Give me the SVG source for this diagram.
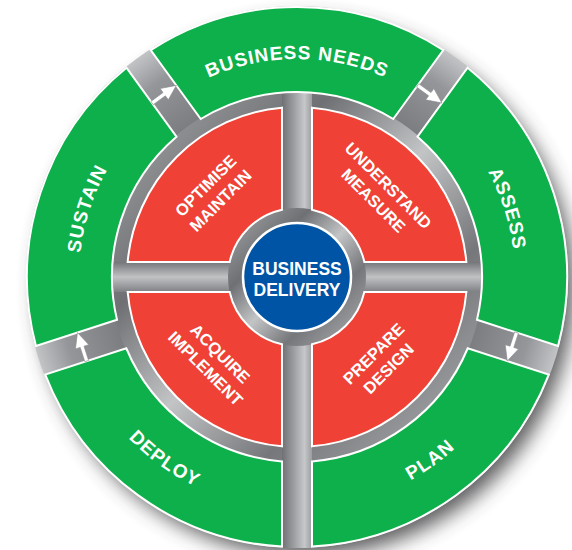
<svg xmlns="http://www.w3.org/2000/svg" width="572" height="550" viewBox="0 0 572 550">
<style>
.seg{fill:#0db04b;stroke:#ffffff;stroke-width:2;stroke-linejoin:miter}
.quad{fill:#ef4136;stroke:#ffffff;stroke-width:2}
.lbl{font-family:"Liberation Sans",Arial,sans-serif;font-weight:bold;fill:#ffffff}
.big{font-size:19px;letter-spacing:1px}
.mid{font-size:16.5px;text-anchor:middle}
.arr{fill:#ffffff;stroke:#8a8b8e;stroke-width:0.6}
</style>
<defs>
<filter id="shadow" x="-20%" y="-20%" width="140%" height="140%"><feGaussianBlur stdDeviation="10"/></filter>
<radialGradient id="outerfade" cx="297" cy="277" r="272" gradientUnits="userSpaceOnUse">
<stop offset="0.68" stop-color="#7c7d80"/>
<stop offset="0.88" stop-color="#95969a"/>
<stop offset="1" stop-color="#c4c5c7"/>
</radialGradient>
<linearGradient id="metal" x1="0" y1="0" x2="1" y2="1">
<stop offset="0" stop-color="#a9aaac"/>
<stop offset="0.3" stop-color="#6f7073"/>
<stop offset="0.5" stop-color="#c3c4c6"/>
<stop offset="0.7" stop-color="#76777a"/>
<stop offset="1" stop-color="#b3b4b6"/>
</linearGradient>
<linearGradient id="vbar" x1="0" y1="0" x2="1" y2="0">
<stop offset="0" stop-color="#6f7073"/>
<stop offset="0.75" stop-color="#c6c7c9"/>
<stop offset="1" stop-color="#9c9da0"/>
</linearGradient>
<linearGradient id="hbar" x1="0" y1="0" x2="0" y2="1">
<stop offset="0" stop-color="#747578"/>
<stop offset="0.5" stop-color="#c1c2c4"/>
<stop offset="1" stop-color="#7f8083"/>
</linearGradient>
<path id="pBN" d="M188,88.2 A218,218 0 0 1 406,88.2"/>
<path id="pAS" d="M442.9,115 A218,218 0 0 1 510.2,322.3"/>
<path id="pSU" d="M83.8,322.3 A218,218 0 0 1 151.1,115"/>
<path id="pDE" d="M84.1,371.8 A233,233 0 0 0 272.6,508.7"/>
<path id="pPL" d="M321.4,508.7 A233,233 0 0 0 509.9,371.8"/>
</defs>

<g id="background">
<circle cx="306" cy="288" r="268" fill="#3f4042" opacity="0.85" filter="url(#shadow)"/>
<circle cx="297" cy="277" r="271" fill="url(#outerfade)"/>
<circle cx="297" cy="277" r="186" fill="url(#metal)"/>
<rect x="282" y="92" width="30" height="456" fill="url(#vbar)"/>
<rect x="112" y="262" width="370" height="30" fill="url(#hbar)"/>
<circle cx="297" cy="277" r="69" fill="url(#metal)"/>
</g>

<g id="business-needs">
<path class="seg" d="M150.68,50.09 A270,270 0 0 1 443.33,50.09 L393.25,119.01 A185,185 0 0 0 200.75,119.01 Z"/>
<text class="lbl big"><textPath href="#pBN" startOffset="50%" text-anchor="middle">BUSINESS NEEDS</textPath></text>
</g>
<g id="assess">
<path class="seg" d="M467.6,67.73 A270,270 0 0 1 558.04,346.03 L477,319.71 A185,185 0 0 0 417.52,136.65 Z"/>
<text class="lbl big"><textPath href="#pAS" startOffset="50%" text-anchor="middle">ASSESS</textPath></text>
</g>
<g id="plan">
<path class="seg" d="M548.77,374.57 A270,270 0 0 1 312,546.58 L312,461.39 A185,185 0 0 0 467.74,348.25 Z"/>
<text class="lbl big"><textPath href="#pPL" startOffset="50%" text-anchor="middle">PLAN</textPath></text>
</g>
<g id="deploy">
<path class="seg" d="M282,546.58 A270,270 0 0 1 45.24,374.57 L126.27,348.25 A185,185 0 0 0 282,461.39 Z"/>
<text class="lbl big"><textPath href="#pDE" startOffset="50%" text-anchor="middle">DEPLOY</textPath></text>
</g>
<g id="sustain">
<path class="seg" d="M35.97,346.03 A270,270 0 0 1 126.41,67.73 L176.49,136.65 A185,185 0 0 0 117,319.71 Z"/>
<text class="lbl big"><textPath href="#pSU" startOffset="50%" text-anchor="middle">SUSTAIN</textPath></text>
</g>

<g id="optimise-maintain">
<path class="quad" d="M127.66,262 A170,170 0 0 1 282,107.66 L282,209.65 A69,69 0 0 0 229.65,262 Z"/>
<g transform="translate(213,193) rotate(-45)">
<text class="lbl mid" x="0" y="-4.6">OPTIMISE</text>
<text class="lbl mid" x="0" y="16.4">MAINTAIN</text>
</g>
</g>
<g id="understand-measure">
<path class="quad" d="M312,107.66 A170,170 0 0 1 466.34,262 L364.35,262 A69,69 0 0 0 312,209.65 Z"/>
<g transform="translate(381,193) rotate(45)">
<text class="lbl mid" x="0" y="-4.6">UNDERSTAND</text>
<text class="lbl mid" x="0" y="16.4">MEASURE</text>
</g>
</g>
<g id="prepare-design">
<path class="quad" d="M466.34,292 A170,170 0 0 1 312,446.34 L312,344.35 A69,69 0 0 0 364.35,292 Z"/>
<g transform="translate(381,361) rotate(-45)">
<text class="lbl mid" x="0" y="-4.6">PREPARE</text>
<text class="lbl mid" x="0" y="16.4">DESIGN</text>
</g>
</g>
<g id="acquire-implement">
<path class="quad" d="M282,446.34 A170,170 0 0 1 127.66,292 L229.65,292 A69,69 0 0 0 282,344.35 Z"/>
<g transform="translate(213,361) rotate(45)">
<text class="lbl mid" x="0" y="-4.6">ACQUIRE</text>
<text class="lbl mid" x="0" y="16.4">IMPLEMENT</text>
</g>
</g>

<g id="business-delivery">
<circle cx="297" cy="277" r="54" fill="#0054a6" stroke="#ffffff" stroke-width="2.5"/>
<text class="lbl" font-size="17.5" text-anchor="middle" x="297" y="274.5">BUSINESS</text>
<text class="lbl" font-size="17.5" text-anchor="middle" x="297" y="296">DELIVERY</text>
</g>

<g id="connectors">
<polygon class="arr" transform="translate(164.2,94.2) rotate(-36)" points="-15,-2 0,-2 0,-7 15,0 0,7 0,2 -15,2"/>
<polygon class="arr" transform="translate(429.8,94.2) rotate(36)" points="-15,-2 0,-2 0,-7 15,0 0,7 0,2 -15,2"/>
<polygon class="arr" transform="translate(511.9,346.8) rotate(108)" points="-15,-2 0,-2 0,-7 15,0 0,7 0,2 -15,2"/>
<polygon class="arr" transform="translate(82.1,346.8) rotate(252)" points="-15,-2 0,-2 0,-7 15,0 0,7 0,2 -15,2"/>
</g>
</svg>
